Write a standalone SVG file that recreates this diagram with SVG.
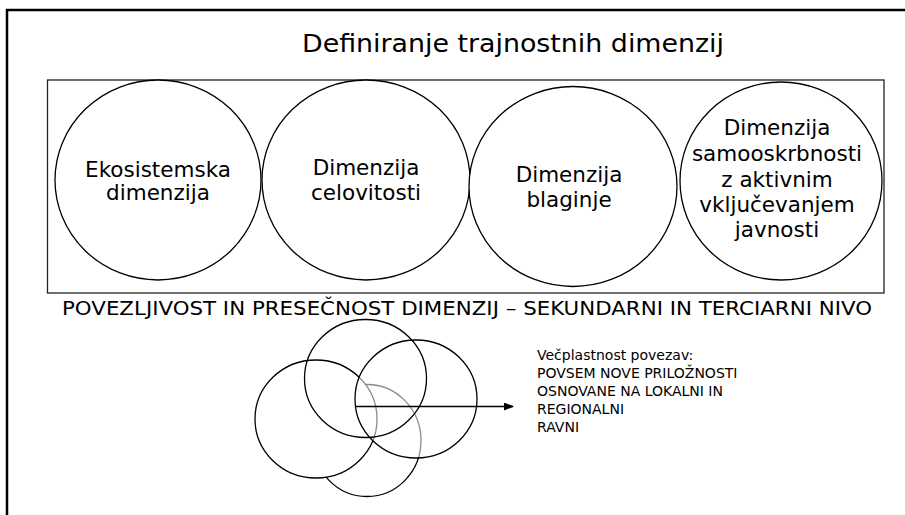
<svg xmlns="http://www.w3.org/2000/svg" width="905" height="515" viewBox="0 0 905 515">
<defs>
<style>
.frame{fill:none;stroke:#000;stroke-width:2.5}
.box{fill:none;stroke:#222;stroke-width:1.3}
.c{fill:#fff;stroke:#000;stroke-width:1.3}
.v{fill:none;stroke:#000;stroke-width:1.3}
.vf{fill:#fff;stroke:#000;stroke-width:1.3}
.vh{fill:#fff;fill-opacity:0.55;stroke:#000;stroke-width:1.3}
.t{font-family:"DejaVu Sans","Verdana",sans-serif;fill:#000}
.ct{font-size:21.5px;text-anchor:middle}
.rt{font-size:14px}
</style>
<marker id="ah" markerWidth="10" markerHeight="8" refX="9" refY="4" orient="auto" markerUnits="userSpaceOnUse">
<path d="M0,0 L10,4 L0,8 z" fill="#000"/>
</marker>
</defs>
<rect x="0" y="0" width="905" height="515" fill="#fff"/>
<path class="frame" d="M7,515 V10 H905"/>
<text id="title" class="t" x="302" y="52" font-size="24" textLength="422" lengthAdjust="spacingAndGlyphs">Definiranje trajnostnih dimenzij</text>
<rect class="box" x="47.5" y="80" width="836.5" height="213"/>
<g id="n1">
<ellipse class="c" cx="158" cy="180" rx="103" ry="100"/>
<text class="t ct" x="158" y="177">Ekosistemska</text>
<text class="t ct" x="158" y="200">dimenzija</text>
</g>
<g id="n2">
<ellipse class="c" cx="366" cy="180" rx="104" ry="100"/>
<text class="t ct" x="366" y="175">Dimenzija</text>
<text class="t ct" x="366" y="200">celovitosti</text>
</g>
<g id="n3">
<ellipse class="c" cx="573" cy="186.5" rx="104" ry="100"/>
<text class="t ct" x="569" y="182">Dimenzija</text>
<text class="t ct" x="569" y="207">blaginje</text>
</g>
<g id="n4">
<ellipse class="c" cx="781" cy="181" rx="101" ry="99"/>
<text class="t ct" x="777" y="135">Dimenzija</text>
<text class="t ct" x="777" y="161">samooskrbnosti</text>
<text class="t ct" x="777" y="187">z aktivnim</text>
<text class="t ct" x="777" y="212">vključevanjem</text>
<text class="t ct" x="777" y="237">javnosti</text>
</g>
<text id="caption" class="t" x="62" y="315" font-size="19" textLength="810" lengthAdjust="spacingAndGlyphs">POVEZLJIVOST IN PRESEČNOST DIMENZIJ – SEKUNDARNI IN TERCIARNI NIVO</text>
<g id="venn">
<ellipse id="vD" class="v" cx="367" cy="440.5" rx="54" ry="56"/>
<ellipse id="vA" class="vf" cx="316" cy="419" rx="61" ry="59"/>
<ellipse id="vC" class="vh" cx="416" cy="399" rx="61" ry="59"/>
<ellipse id="vB" class="v" cx="365.5" cy="378.5" rx="61" ry="59"/>
</g>
<g id="connectors">
<line x1="355" y1="406.5" x2="513" y2="406.5" stroke="#000" stroke-width="1.3" marker-end="url(#ah)"/>
</g>
<g id="note" class="t rt">
<text x="537" y="360">Večplastnost povezav:</text>
<text x="537" y="378">POVSEM NOVE PRILOŽNOSTI</text>
<text x="537" y="396">OSNOVANE NA LOKALNI IN</text>
<text x="537" y="414">REGIONALNI</text>
<text x="537" y="432">RAVNI</text>
</g>
</svg>
